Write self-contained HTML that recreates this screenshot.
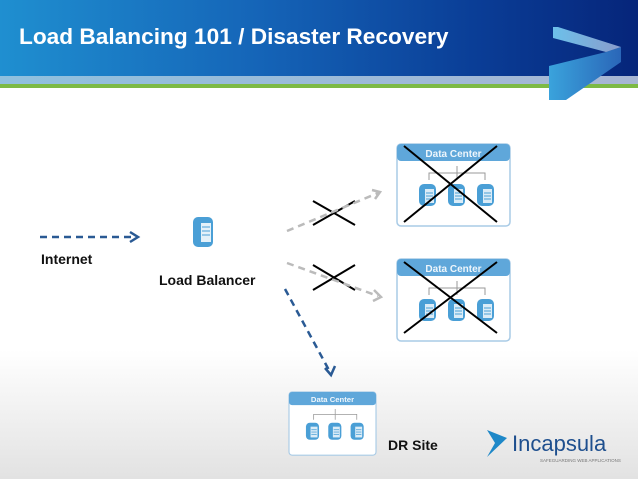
<!DOCTYPE html>
<html><head><meta charset="utf-8"><style>
html,body{margin:0;padding:0}
body{width:638px;height:479px;overflow:hidden;position:relative;font-family:"Liberation Sans",sans-serif;background:linear-gradient(#fff 0,#fff 350px,#e2e2e2 479px)}
.hdr{position:absolute;left:0;top:0;width:638px;height:76px;background:linear-gradient(90deg,#1f8fd0 0%,#1565b8 40%,#0a3d96 75%,#06257a 100%)}
.s1{position:absolute;left:0;top:76px;width:638px;height:8px;background:linear-gradient(90deg,#8fc0de,#a7b6d4)}
.s2{position:absolute;left:0;top:84px;width:638px;height:4px;background:#7dba45}
.title{position:absolute;left:19px;top:24px;color:#fff;font-size:22px;font-weight:bold;letter-spacing:0px;transform:scaleX(1.03);transform-origin:left}
.lbl{position:absolute;font-weight:bold;font-size:14px;color:#111}
</style></head><body>
<div class="hdr"></div><div class="s1"></div><div class="s2"></div>
<div class="title">Load Balancing 101 / Disaster Recovery</div>
<svg width="638" height="479" style="position:absolute;left:0;top:0">
<defs>
<linearGradient id="cg" x1="0" x2="1"><stop offset="0" stop-color="#3aa3dc"/><stop offset="1" stop-color="#2a66b8"/></linearGradient>
<linearGradient id="cg2" x1="0" x2="1"><stop offset="0" stop-color="#6cc0ea"/><stop offset="1" stop-color="#8a9ccc"/></linearGradient>
<g id="srv"><rect x="0" y="0" width="17" height="22" rx="5" fill="#4a9fd6"/><rect x="6" y="5" width="9" height="14" fill="#fff" opacity=".8"/><line x1="7" y1="9" x2="14" y2="9" stroke="#4a9fd6"/><line x1="7" y1="12" x2="14" y2="12" stroke="#4a9fd6"/><line x1="7" y1="15" x2="14" y2="15" stroke="#4a9fd6"/></g>
<g id="dc"><rect x="0" y="0" width="113" height="82" rx="4" fill="#fff" stroke="#a9cbe6" stroke-width="1.5"/><rect x="0" y="0" width="113" height="17" rx="4" fill="#5fa7da"/><text x="56.5" y="13" font-size="10" font-weight="bold" fill="#eef6fc" text-anchor="middle">Data Center</text>
<path d="M32 36V29H88V36M60 29V36M60 22V29" stroke="#999" fill="none"/>
<use href="#srv" x="22" y="40"/><use href="#srv" x="51" y="40"/><use href="#srv" x="80" y="40"/></g>
</defs>
<polygon points="549,66 606,52 621,47 621,62 566,100 549,100" fill="url(#cg)"/>
<polygon points="553,27 558,27 621,47 606,52 553,38" fill="url(#cg2)"/>
<use href="#dc" x="397" y="144"/>
<use href="#dc" x="397" y="259"/>
<g transform="translate(289,392) scale(0.77)"><use href="#dc"/></g>
<path d="M404 146L497 222M497 146L404 222M404 262L497 333M497 262L404 333" stroke="#000" stroke-width="2"/>
<path d="M313 201L355 225M313 225L355 201M313 265L355 290M313 290L355 265" stroke="#000" stroke-width="2"/>
<line x1="40" y1="237" x2="135" y2="237" stroke="#2a5a94" stroke-width="2.5" stroke-dasharray="7,5"/>
<path d="M130 232L138 237L130 242" stroke="#2a5a94" stroke-width="2.5" fill="none"/>
<line x1="287" y1="231" x2="378" y2="193" stroke="#bbb" stroke-width="2.5" stroke-dasharray="7,5"/>
<path d="M372 190L380 192L375 199" stroke="#bbb" stroke-width="2.5" fill="none"/>
<line x1="287" y1="263" x2="378" y2="296" stroke="#bbb" stroke-width="2.5" stroke-dasharray="7,5"/>
<path d="M374 290L381 297L373 301" stroke="#bbb" stroke-width="2.5" fill="none"/>
<line x1="285" y1="289" x2="330" y2="372" stroke="#2a5a94" stroke-width="2.5" stroke-dasharray="7,5"/>
<path d="M325 368L331 375L335 366" stroke="#2a5a94" stroke-width="2.5" fill="none"/>
<g transform="translate(193,217)"><rect width="20" height="30" rx="5" fill="#4a9fd6"/><rect x="8" y="6" width="10" height="19" fill="#fff" opacity=".85"/><line x1="9" y1="10" x2="17" y2="10" stroke="#4a9fd6"/><line x1="9" y1="14" x2="17" y2="14" stroke="#4a9fd6"/><line x1="9" y1="18" x2="17" y2="18" stroke="#4a9fd6"/></g>
<polygon points="487,430 507,438 487,457 495,443" fill="#1e88c8"/>
<text x="512" y="451" font-size="22" fill="#1e4f8e" font-family="Liberation Sans">Incapsula</text>
<text x="540" y="462" font-size="4.5" fill="#777">SAFEGUARDING WEB APPLICATIONS</text>
</svg>
<div class="lbl" style="left:41px;top:251px">Internet</div>
<div class="lbl" style="left:159px;top:272px">Load Balancer</div>
<div class="lbl" style="left:388px;top:437px">DR Site</div>
</body></html>
